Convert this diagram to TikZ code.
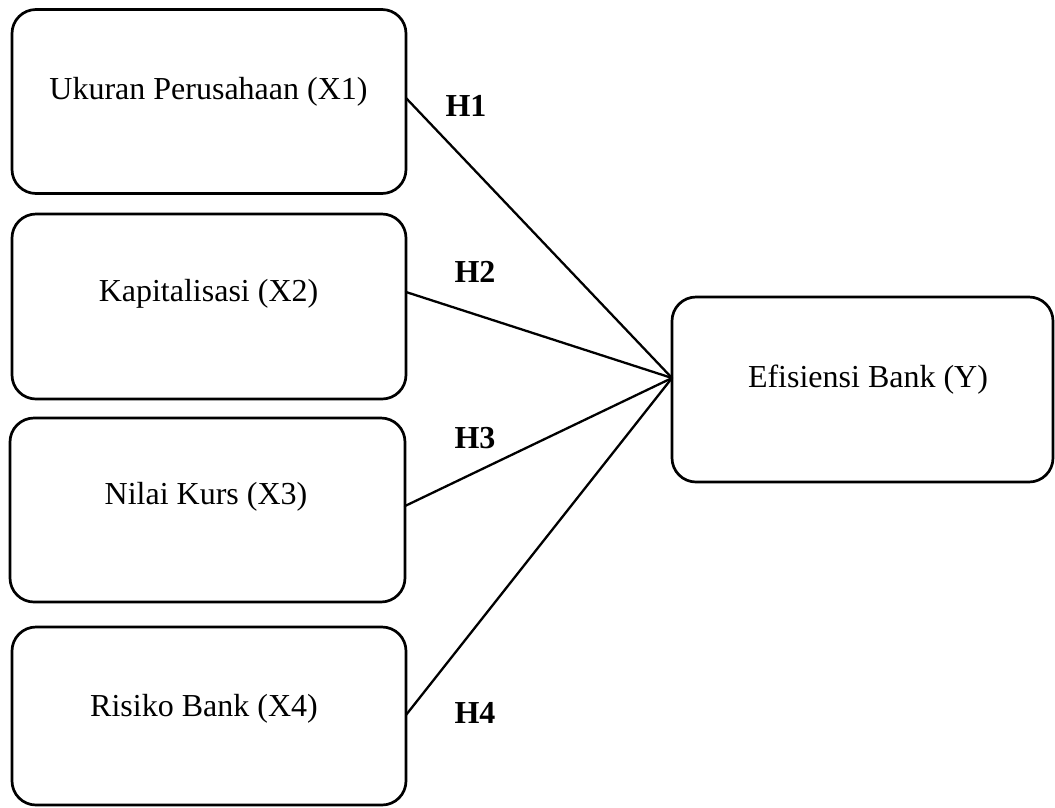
\documentclass[tikz,border=0pt]{standalone}
\usepackage{fontspec}
\setmainfont{Liberation Serif}
\usetikzlibrary{calc}
\tikzset{
  box/.style={draw=black, line width=2.7pt, rounded corners=24pt, inner sep=0pt, outer sep=0pt,
    minimum width=394pt, minimum height=184pt},
  lbl/.style={anchor=base, inner sep=0pt, font=\fontsize{32}{38}\selectfont},
  hyp/.style={anchor=base, inner sep=0pt, font=\fontsize{32}{38}\selectfont\bfseries},
  link/.style={draw=black, line width=2.3pt, line cap=round},
}
\begin{document}
\begin{tikzpicture}[x=1pt,y=-1pt]
  \useasboundingbox (0,0) rectangle (1055,807);
  % independent variables
  \node[box] (x1) at (209,101.5) {};
  \node[box,minimum height=185pt] (x2) at (209,306.5) {};
  \node[box,minimum width=395pt] (x3) at (207.5,510) {};
  \node[box,minimum height=178pt] (x4) at (209,716) {};
  % dependent variable
  \node[box,minimum width=381pt,minimum height=185pt] (y) at (862.5,389.5) {};
  \node[lbl] (t1) at (208.5,99) {Ukuran Perusahaan (X1)};
  \node[lbl] (t2) at (208.5,301) {Kapitalisasi (X2)};
  \node[lbl] (t3) at (206,504) {Nilai Kurs (X3)};
  \node[lbl] (t4) at (204,716) {Risiko Bank (X4)};
  \node[lbl] (ty) at (868,387) {Efisiensi Bank (Y)};
  % paths
  \coordinate (hub) at ($(y.west)+(0,-11.5)$);
  \draw[link] ($(x1.east)+(0,-3.5)$) -- (hub);
  \draw[link] ($(x2.east)+(0,-14.5)$) -- (hub);
  \draw[link] ($(x3.east)+(0,-4)$) -- (hub);
  \draw[link] ($(x4.east)+(0,-1)$) -- (hub);
  \node[hyp] (h1) at (466,116) {H1};
  \node[hyp] (h2) at (475,282) {H2};
  \node[hyp] (h3) at (475,448) {H3};
  \node[hyp] (h4) at (475,723) {H4};
\end{tikzpicture}
\end{document}
